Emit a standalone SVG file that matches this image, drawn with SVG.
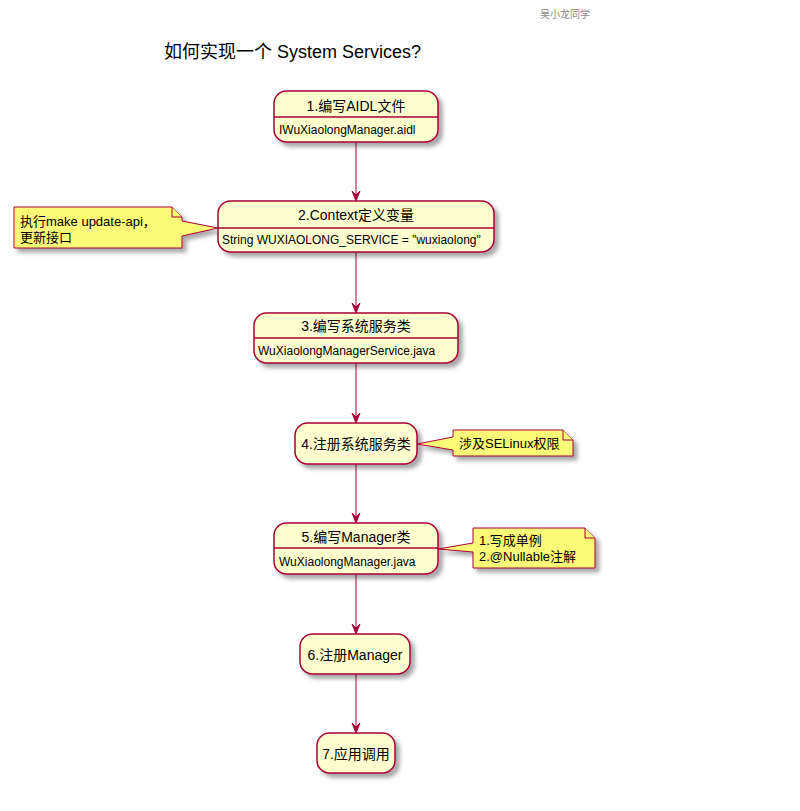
<svg xmlns="http://www.w3.org/2000/svg" width="800" height="811" viewBox="0 0 800 811">
<style>
text{font-family:"Liberation Sans","Noto Sans CJK SC",sans-serif;fill:#000}
.st{fill:#FEFECE;stroke:#A80036;stroke-width:1.5}
.sep{stroke:#A80036;stroke-width:1.5}
.nt{fill:#FBFB77;stroke:#A80036;stroke-width:1}
.ed{stroke:#A80036;stroke-width:1;fill:none}
.ah{fill:#A80036;stroke:#A80036}
.t14{font-size:14px}
.t12{font-size:12px}
.t13{font-size:13px}
</style>
<defs>
<filter id="sh" x="-20%" y="-20%" width="150%" height="160%">
<feDropShadow dx="4" dy="4" stdDeviation="2" flood-color="#000" flood-opacity="0.35"/>
</filter>
</defs>
<rect width="800" height="811" fill="#fff"/>
<text x="540" y="18" style="font-size:10px;fill:#888">吴小龙同学</text>
<text x="164" y="58" style="font-size:18px">如何实现一个 System Services?</text>

<g id="connectors">
<line class="ed" x1="356" y1="142" x2="356" y2="196"/>
<polygon class="ah" points="352,191 356,201 360,191 356,195"/>
<line class="ed" x1="356" y1="252" x2="356" y2="308"/>
<polygon class="ah" points="352,303 356,313 360,303 356,307"/>
<line class="ed" x1="356" y1="363" x2="356" y2="418"/>
<polygon class="ah" points="352,413 356,423 360,413 356,417"/>
<line class="ed" x1="356" y1="464" x2="356" y2="518"/>
<polygon class="ah" points="352,513 356,523 360,513 356,517"/>
<line class="ed" x1="356" y1="574" x2="356" y2="629"/>
<polygon class="ah" points="352,624 356,634 360,624 356,628"/>
<line class="ed" x1="356" y1="674" x2="356" y2="728"/>
<polygon class="ah" points="352,723 356,733 360,723 356,727"/>
</g>

<g id="node1">
<rect class="st" x="274" y="91" width="164" height="51" rx="12.5" filter="url(#sh)"/>
<line class="sep" x1="274" y1="117" x2="438" y2="117"/>
<text class="t14" x="356" y="111" text-anchor="middle">1.编写AIDL文件</text>
<text class="t12" x="279" y="134">IWuXiaolongManager.aidl</text>
</g>

<g id="note1">
<path class="nt" d="M14,207 L14,248 L182,248 L182,236 L218,228 L182,221 L182,217 L172,207 Z" filter="url(#sh)"/>
<path class="nt" d="M172,207 L172,217 L182,217"/>
<text class="t13" x="20" y="226">执行make update-api，</text>
<text class="t13" x="20" y="242">更新接口</text>
</g>

<g id="node2">
<rect class="st" x="218" y="201" width="276" height="51" rx="12.5" filter="url(#sh)"/>
<line class="sep" x1="218" y1="228" x2="494" y2="228"/>
<text class="t14" x="356" y="220" text-anchor="middle">2.Context定义变量</text>
<text class="t12" x="222" y="244">String WUXIAOLONG_SERVICE = "wuxiaolong"</text>
</g>

<g id="node3">
<rect class="st" x="254" y="313" width="204" height="50" rx="12.5" filter="url(#sh)"/>
<line class="sep" x1="254" y1="338" x2="458" y2="338"/>
<text class="t14" x="356" y="331" text-anchor="middle">3.编写系统服务类</text>
<text class="t12" x="258" y="355">WuXiaolongManagerService.java</text>
</g>

<g id="node4">
<rect class="st" x="295" y="423" width="122" height="41" rx="12.5" filter="url(#sh)"/>
<text class="t14" x="356" y="449" text-anchor="middle">4.注册系统服务类</text>
</g>

<g id="note2">
<path class="nt" d="M453,430 L453,437 L417,444 L453,450 L453,456 L573,456 L573,440 L563,430 Z" filter="url(#sh)"/>
<path class="nt" d="M563,430 L563,440 L573,440"/>
<text class="t13" x="459" y="448">涉及SELinux权限</text>
</g>

<g id="node5">
<rect class="st" x="274" y="523" width="164" height="51" rx="12.5" filter="url(#sh)"/>
<line class="sep" x1="274" y1="548" x2="438" y2="548"/>
<text class="t14" x="356" y="542" text-anchor="middle">5.编写Manager类</text>
<text class="t12" x="279" y="566">WuXiaolongManager.java</text>
</g>

<g id="note3">
<path class="nt" d="M473,528 L473,543 L438,549 L473,552 L473,568 L595,568 L595,538 L585,528 Z" filter="url(#sh)"/>
<path class="nt" d="M585,528 L585,538 L595,538"/>
<text class="t13" x="479" y="545">1.写成单例</text>
<text class="t13" x="479" y="561">2.@Nullable注解</text>
</g>

<g id="node6">
<rect class="st" x="300" y="634" width="110" height="40" rx="12.5" filter="url(#sh)"/>
<text class="t14" x="355" y="660" text-anchor="middle">6.注册Manager</text>
</g>

<g id="node7">
<rect class="st" x="317" y="733" width="78" height="40" rx="12.5" filter="url(#sh)"/>
<text class="t14" x="356" y="759" text-anchor="middle">7.应用调用</text>
</g>
</svg>
